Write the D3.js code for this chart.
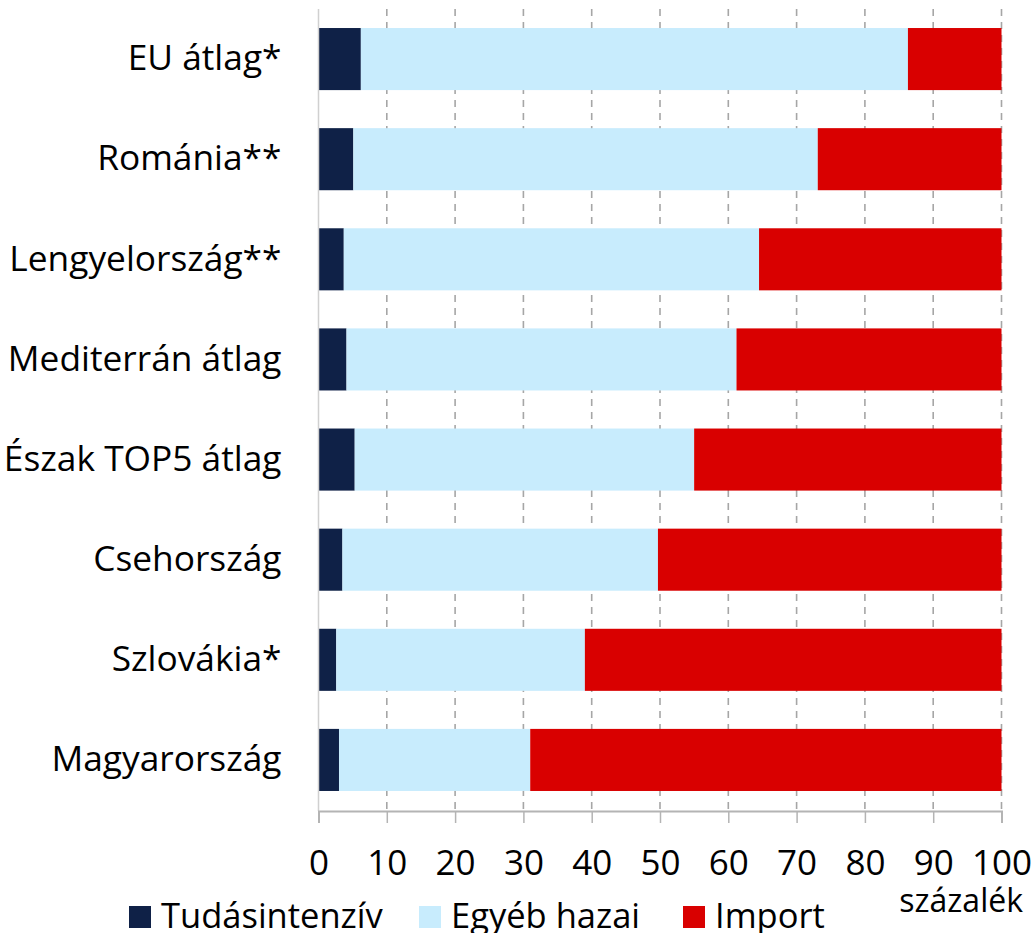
<!DOCTYPE html>
<html><head><meta charset="utf-8">
<script src="https://cdn.jsdelivr.net/npm/d3@7"></script>
<style>html,body{margin:0;padding:0;background:#fff;}svg{display:block;}</style>
</head><body>
<svg id="chart" width="1034" height="933"></svg>
<script>
const categories = ["EU átlag*","Románia**","Lengyelország**","Mediterrán átlag","Észak TOP5 átlag","Csehország","Szlovákia*","Magyarország"];
const tudasintenziv = [6.2, 5.1, 3.7, 4.1, 5.3, 3.5, 2.6, 3.0];
const egyebHazai   = [80.1, 68.0, 60.8, 57.1, 49.7, 46.2, 36.4, 28.0];
const importShare  = [13.7, 26.9, 35.5, 38.8, 45.0, 50.3, 61.0, 69.0];
const seriesNames = ["Tudásintenzív","Egyéb hazai","Import"];
const seriesKeys = ["tudas","egyeb","imp"];
const colors = ["#0f2147","#c8ecfd","#d90000"];
const xTicks = [0,10,20,30,40,50,60,70,80,90,100];
const unitLabel = "százalék";

const rows = categories.map((c,i)=>({cat:c, tudas:tudasintenziv[i], egyeb:egyebHazai[i], imp:importShare[i]}));
const font = "'Open Sans', sans-serif";
const svg = d3.select("#chart");
const x = d3.scaleLinear().domain([0,100]).range([318.5,1001.5]);
const y = d3.scaleBand().domain(categories).range([9,810]).paddingInner(0.38).paddingOuter(0.19);

// gridlines
svg.append("g").selectAll("line").data(xTicks.filter(t=>t>0)).join("line")
  .attr("x1",d=>x(d)).attr("x2",d=>x(d)).attr("y1",9).attr("y2",810)
  .attr("stroke","#a6a6a6").attr("stroke-width",1.6).attr("stroke-dasharray","7,6");

// bars
const stack = d3.stack().keys(seriesKeys)(rows);
svg.append("g").selectAll("g").data(stack).join("g")
  .attr("fill",(d,i)=>colors[i])
  .selectAll("rect").data(d=>d).join("rect")
  .attr("x",d=>x(d[0])).attr("width",d=>x(d[1])-x(d[0]))
  .attr("y",d=>y(d.data.cat)).attr("height",y.bandwidth());

// left axis line
svg.append("line").attr("x1",x(0)).attr("x2",x(0)).attr("y1",9).attr("y2",811)
  .attr("stroke","#d0d0d0").attr("stroke-width",1.5);

// bottom axis
const xAxis = d3.axisBottom(x).tickValues(xTicks).tickSize(12).tickPadding(27).tickFormat(d3.format("d"));
const ax = svg.append("g").attr("transform","translate(0,811)").call(xAxis);
ax.select(".domain").attr("stroke","#b4b4b4").attr("stroke-width",2);
ax.selectAll(".tick line").attr("stroke","#b4b4b4").attr("stroke-width",1.5);
ax.selectAll(".tick text").attr("font-family",font).attr("font-size",35).attr("fill","#000");

// category labels
const yAxis = d3.axisLeft(y).tickSize(0).tickPadding(37);
const ay = svg.append("g").attr("transform",`translate(${x(0)},0)`).call(yAxis);
ay.select(".domain").remove();
ay.selectAll(".tick text").attr("font-family",font).attr("font-size",35.3).attr("fill","#000");

// unit label
svg.append("text").attr("x",1023).attr("y",912).attr("text-anchor","end")
  .attr("font-family",font).attr("font-size",32).attr("fill","#000").text(unitLabel);

// legend
const legendX = [129, 419, 683];
const lg = svg.append("g");
seriesNames.forEach((n,i)=>{
  lg.append("rect").attr("x",legendX[i]).attr("y",906).attr("width",22).attr("height",22).attr("fill",colors[i]);
  lg.append("text").attr("x",legendX[i]+32).attr("y",928).attr("font-family",font).attr("font-size",34.5).attr("fill","#000").text(n);
});
</script>
</body></html>
